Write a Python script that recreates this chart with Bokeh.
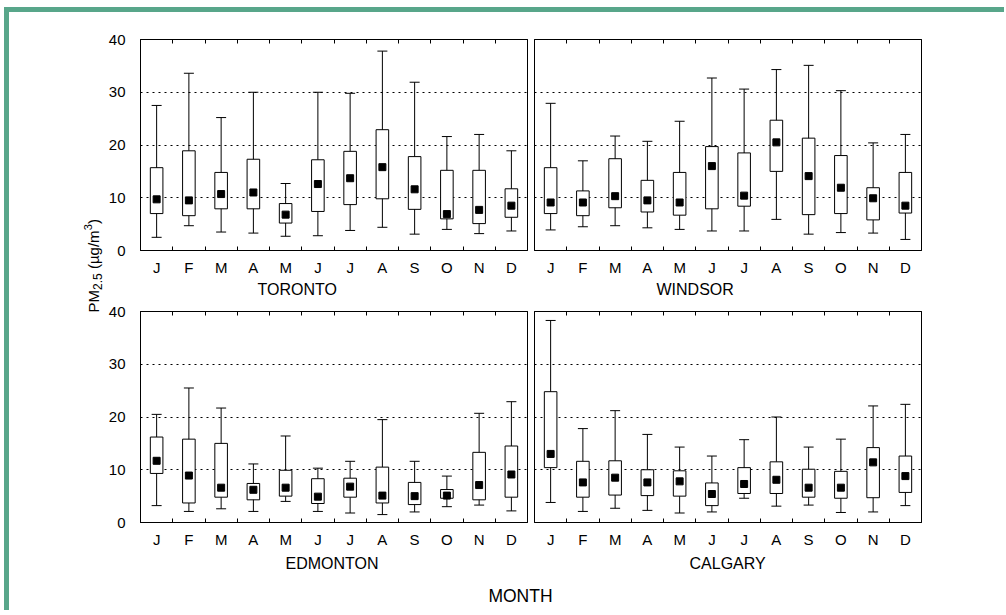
from math import pi
from bokeh.plotting import figure
from bokeh.layouts import row, column
from bokeh.models import FixedTicker, LinearAxis, Range1d, Title
from bokeh.embed import file_html
from bokeh.resources import INLINE
from bokeh.core.properties import value

months = ["J", "F", "M", "A", "M", "J", "J", "A", "S", "O", "N", "D"]
x = list(range(1, 13))

toronto_low = [2.5, 4.7, 3.5, 3.3, 2.7, 2.8, 3.8, 4.4, 3.1, 4.0, 3.2, 3.7]
toronto_q1 = [7.0, 6.6, 7.9, 7.9, 5.2, 7.4, 8.7, 9.8, 7.8, 6.0, 5.1, 6.3]
toronto_med = [9.7, 9.5, 10.7, 11.0, 6.8, 12.6, 13.7, 15.8, 11.6, 6.9, 7.7, 8.5]
toronto_q3 = [15.7, 18.9, 14.8, 17.3, 8.9, 17.2, 18.8, 22.9, 17.8, 15.2, 15.2, 11.7]
toronto_high = [27.5, 33.6, 25.2, 30.0, 12.7, 30.0, 29.8, 37.8, 31.9, 21.6, 22.0, 18.9]

windsor_low = [3.9, 4.5, 4.7, 4.3, 4.0, 3.7, 3.7, 5.9, 3.1, 3.4, 3.3, 2.1]
windsor_q1 = [7.0, 6.6, 8.1, 7.3, 6.7, 7.9, 8.4, 15.0, 6.8, 7.0, 5.8, 7.1]
windsor_med = [9.1, 9.1, 10.3, 9.5, 9.1, 16.0, 10.4, 20.5, 14.1, 11.9, 9.9, 8.5]
windsor_q3 = [15.7, 11.3, 17.4, 13.3, 14.8, 19.7, 18.5, 24.7, 21.3, 18.0, 11.9, 14.8]
windsor_high = [27.9, 17.0, 21.7, 20.7, 24.5, 32.7, 30.6, 34.3, 35.1, 30.3, 20.4, 22.0]

edmonton_low = [3.2, 2.1, 2.6, 2.1, 4.0, 2.1, 1.8, 1.5, 2.0, 3.0, 3.3, 2.2]
edmonton_q1 = [9.3, 3.7, 4.8, 4.3, 5.0, 3.6, 4.8, 3.7, 3.4, 4.6, 4.3, 4.8]
edmonton_med = [11.7, 8.9, 6.6, 6.2, 6.6, 4.9, 6.8, 5.1, 5.0, 5.1, 7.1, 9.1]
edmonton_q3 = [16.2, 15.8, 15.0, 7.4, 9.9, 8.3, 8.4, 10.5, 7.6, 6.25, 13.3, 14.5]
edmonton_high = [20.5, 25.5, 21.7, 11.1, 16.4, 10.3, 11.6, 19.5, 11.6, 8.8, 20.7, 22.9]

calgary_low = [3.8, 2.1, 2.7, 2.3, 1.8, 2.0, 4.6, 3.1, 3.3, 1.9, 2.0, 3.2]
calgary_q1 = [10.4, 4.8, 5.2, 5.1, 5.0, 3.2, 5.5, 5.5, 4.8, 4.6, 4.7, 5.7]
calgary_med = [13.0, 7.6, 8.5, 7.6, 7.8, 5.4, 7.3, 8.1, 6.6, 6.6, 11.4, 8.8]
calgary_q3 = [24.8, 11.6, 11.7, 10.0, 9.8, 7.5, 10.4, 11.5, 10.1, 9.7, 14.2, 12.6]
calgary_high = [38.3, 17.8, 21.2, 16.7, 14.3, 12.6, 15.7, 20.0, 14.3, 15.8, 22.1, 22.4]

y_ticks = [0, 10, 20, 30, 40]
grid_ticks = [10, 20, 30]
boundaries = [k + 0.5 for k in range(0, 13)]

FONT = "Liberation Sans"
GREEN = "#58a68a"
FRAME_W = 387
FRAME_H = 211
FRAME_X0 = 140          # page x of the left panels' frame
LEFT_MBL = 36


def make_panel(name, name_offset, name_standoff, low, q1, med, q3, high, show_y,
               mbl, mbr, mbt, mbb):
    p = figure(frame_width=FRAME_W, frame_height=FRAME_H,
               x_range=Range1d(0.5, 12.5), y_range=Range1d(0, 40),
               output_backend="svg", toolbar_location=None,
               min_border_left=mbl, min_border_right=mbr,
               min_border_top=mbt, min_border_bottom=mbb,
               x_axis_location=None, y_axis_location=None)
    p.outline_line_color = "black"
    p.outline_line_width = 1
    p.background_fill_color = "white"
    p.border_fill_color = "white"

    # bottom axis with month labels
    xa = LinearAxis(ticker=FixedTicker(ticks=x, minor_ticks=boundaries),
                    major_label_overrides={i: m for i, m in zip(x, months)})
    xa.major_tick_line_color = None
    xa.minor_tick_in = 4
    xa.minor_tick_out = 0
    xa.minor_tick_line_color = "black"
    xa.axis_line_color = "black"
    xa.major_label_standoff = 2
    xa.major_label_text_font = FONT
    xa.major_label_text_font_size = "15px"
    xa.major_label_text_color = "black"
    p.add_layout(xa, "below")

    # city name below the month labels
    t = Title(text=name, align="left", offset=name_offset, standoff=name_standoff,
              text_font=FONT, text_font_size="16px", text_font_style="normal",
              text_color="black")
    p.add_layout(t, "below")

    # top axis: only boundary tick marks
    ta = LinearAxis(ticker=FixedTicker(ticks=[], minor_ticks=boundaries))
    ta.major_tick_line_color = None
    ta.minor_tick_in = 4
    ta.minor_tick_out = 0
    ta.minor_tick_line_color = "black"
    ta.axis_line_color = "black"
    ta.major_label_text_font_size = "0px"
    ta.major_label_standoff = 0
    p.add_layout(ta, "above")

    if show_y:
        ya = LinearAxis(ticker=FixedTicker(ticks=y_ticks))
        ya.major_tick_line_color = None
        ya.minor_tick_line_color = None
        ya.axis_line_color = "black"
        ya.major_label_standoff = 9
        ya.major_label_text_font = FONT
        ya.major_label_text_font_size = "15px"
        ya.major_label_text_color = "black"
        p.add_layout(ya, "left")

    p.xgrid.visible = False
    p.ygrid.ticker = FixedTicker(ticks=grid_ticks)
    p.ygrid.grid_line_color = "black"
    p.ygrid.grid_line_dash = "2 4"
    p.ygrid.grid_line_width = 1

    # whisker stems
    p.segment(x0=x, y0=low, x1=x, y1=high, line_color="black", line_width=1)
    # caps
    p.scatter(x=x, y=low, marker="dash", size=10, line_color="black", line_width=1)
    p.scatter(x=x, y=high, marker="dash", size=10, line_color="black", line_width=1)
    # boxes
    p.vbar(x=x, width=0.39, bottom=q1, top=q3, fill_color="white",
           line_color="black", line_width=1)
    # medians
    p.scatter(x=x, y=med, marker="square", size=7, fill_color="black",
              line_color="black")
    return p


TOP_MBT, TOP_MBB = 27, 50
BOT_MBT, BOT_MBB = 11, 57
RIGHT_MBR = 83

tl = make_panel("TORONTO", 117, 1, toronto_low, toronto_q1, toronto_med, toronto_q3,
                toronto_high, True, LEFT_MBL, 3, TOP_MBT, TOP_MBB)
tr = make_panel("WINDSOR", 122, 1, windsor_low, windsor_q1, windsor_med, windsor_q3,
                windsor_high, False, 4, RIGHT_MBR, TOP_MBT, TOP_MBB)
bl = make_panel("EDMONTON", 145, 4, edmonton_low, edmonton_q1, edmonton_med, edmonton_q3,
                edmonton_high, True, LEFT_MBL, 3, BOT_MBT, BOT_MBB)
br = make_panel("CALGARY", 155, 4, calgary_low, calgary_q1, calgary_med, calgary_q3,
                calgary_high, False, 4, RIGHT_MBR, BOT_MBT, BOT_MBB)


def blank(w, h):
    f = figure(width=w, height=h, x_range=Range1d(0, w), y_range=Range1d(0, h),
               output_backend="svg", toolbar_location=None, min_border=0,
               x_axis_location=None, y_axis_location=None)
    f.outline_line_color = None
    f.xgrid.visible = False
    f.ygrid.visible = False
    return f


ORIGIN_X, ORIGIN_Y = 9, 12
strip_h = (TOP_MBT + FRAME_H + TOP_MBB) + (BOT_MBT + FRAME_H + BOT_MBB)
strip_end = FRAME_X0 - LEFT_MBL
left_w = strip_end - ORIGIN_X
left_strip = blank(left_w, strip_h)

# y-axis title, written upward in pieces: PM, subscript 2.5, (µg/m, superscript 3, )
label_parts = ["PM", "2.5", "(\u00b5g/m", "3", ")"]
label_sizes = [15, 12, 15, 11, 15]
label_shift = [0, 4, 0, -6, 0]            # baseline shift, px (positive = down)
label_adv = [22.5, 16.7, 38.8, 6.2, 5.0]  # advance along the text, px
label_gap = [0, 0, 4.2, 0, 0]             # space before the piece, px
base_x = 93 - ORIGIN_X
start_y = 312
cur = start_y
for part, size, shift, adv, gap in zip(label_parts, label_sizes, label_shift,
                                       label_adv, label_gap):
    cur -= gap
    left_strip.text(x=[base_x + shift], y=[strip_h - (cur - ORIGIN_Y)], text=[part],
                    angle=pi / 2, text_align="left", text_baseline="alphabetic",
                    text_font=value(FONT), text_font_size=f"{size}px",
                    text_color="black")
    cur -= adv

month_w = (LEFT_MBL + FRAME_W + 3) + (4 + FRAME_W + RIGHT_MBR)
month_h = 31
month_strip = blank(month_w, month_h)
month_strip.text(x=[520 - strip_end], y=[month_h - (595 - (ORIGIN_Y + strip_h))],
                 text=["MONTH"], text_align="center",
                 text_baseline="middle", text_font=value(FONT),
                 text_font_size="17.5px", text_color="black")

layout = row(left_strip, column(row(tl, tr), row(bl, br), month_strip),
             margin=(7, 0, 0, 4),
             styles={"border-top": f"5px solid {GREEN}",
                     "border-left": f"5px solid {GREEN}"})

open("out.html", "w").write(file_html(layout, INLINE))
